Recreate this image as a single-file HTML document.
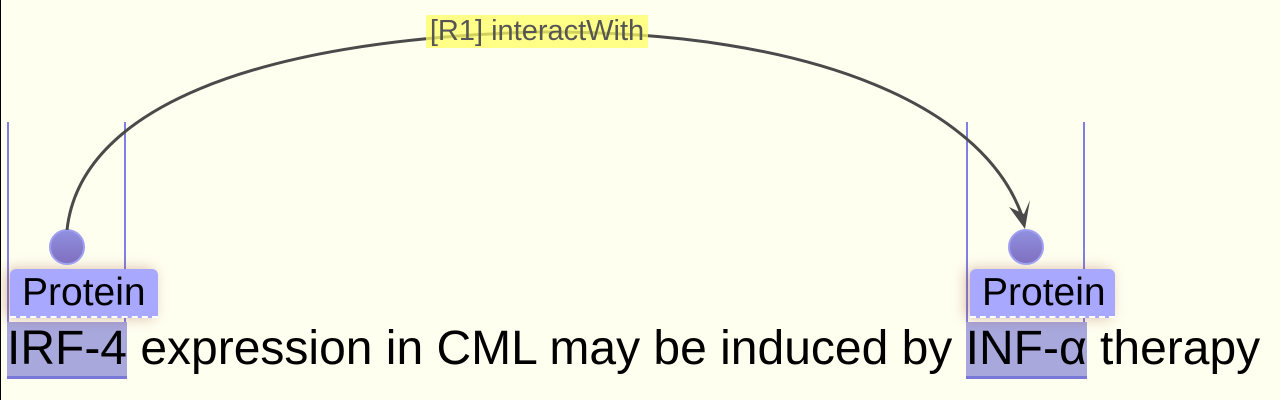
<!DOCTYPE html>
<html><head><meta charset="utf-8"><style>
html,body{margin:0;padding:0;}
body{width:1280px;height:400px;background:#fffff0;position:relative;overflow:hidden;font-family:"Liberation Sans",sans-serif;}
.edge{position:absolute;left:0;top:0;width:1px;height:400px;background:#000;}
.vl{position:absolute;top:122px;width:2px;height:200px;background:#8080e0;}
.hl{position:absolute;top:322px;height:54px;background:#a8a8dd;border-bottom:3px solid #7878d8;}
.lab{position:absolute;top:269px;height:47px;background:#a8a8ff;border-bottom:2px dashed #fff;font-size:39px;line-height:47px;color:#000;padding-left:12px;box-shadow:-4px 0 14px rgba(150,60,40,0.35);border-radius:6px 6px 0 0;}
.dot{position:absolute;width:36px;height:36px;border-radius:50%;background:linear-gradient(#9090e0,#8070c0);border:2px solid #a0a0f0;box-sizing:border-box;}
.txt{position:absolute;left:7px;top:320px;font-size:48px;line-height:58px;white-space:nowrap;color:#000;}
.rl{position:absolute;left:426px;top:15px;width:222px;height:33px;background:rgba(255,255,100,0.75);font-size:29px;line-height:33px;color:#555;text-align:center;white-space:nowrap;}
</style></head><body>
<div class="edge"></div>
<div class="vl" style="left:7px"></div><div class="vl" style="left:124px"></div>
<div class="vl" style="left:966px"></div><div class="vl" style="left:1083px"></div>
<div class="hl" style="left:7px;width:120px"></div>
<div class="hl" style="left:966px;width:121px"></div>
<div class="txt">IRF-4 expression in CML may be induced by INF-α therapy</div>
<div class="lab" style="left:10px;width:136px">Protein</div>
<div class="lab" style="left:970px;width:133px">Protein</div>
<div class="dot" style="left:49px;top:229px"></div>
<div class="dot" style="left:1008px;top:229px"></div>
<svg width="1280" height="400" style="position:absolute;left:0;top:0">
<path d="M67,230 C80,110 250,40 537,32 C820,30 990,110 1024,222" fill="none" stroke="#4a4a4a" stroke-width="3"/>
<path d="M1025,229 L1009,207 L1024,214 L1030,200 Z" fill="#4a4a4a"/>
</svg>
<div class="rl">[R1] interactWith</div>
</body></html>
